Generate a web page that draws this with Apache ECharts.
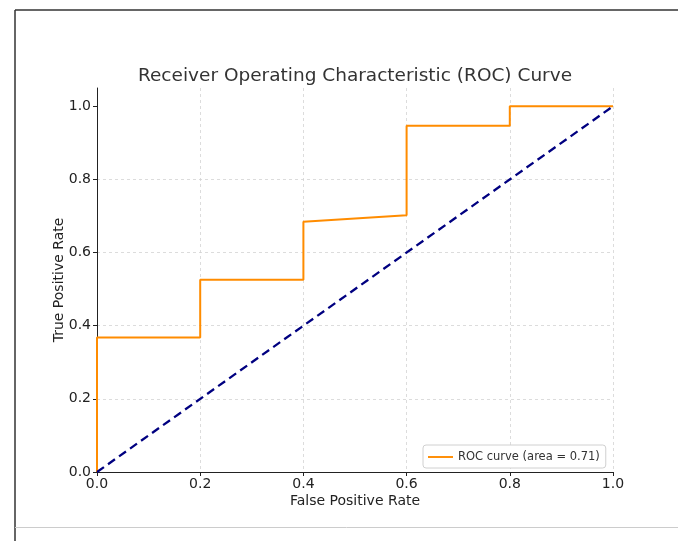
<!DOCTYPE html>
<html>
<head>
<meta charset="utf-8">
<script src="https://cdn.jsdelivr.net/npm/echarts@6/dist/echarts.min.js"></script>
<style>
html,body{margin:0;padding:0;background:#fff;}
#c{width:678px;height:541px;}
</style>
</head>
<body>
<div id="c"></div>
<script>
const fpr = [0.0, 0.0, 0.2, 0.2, 0.4, 0.4, 0.6, 0.6, 0.8, 0.8, 1.0];
const tpr = [0.0, 0.368, 0.368, 0.526, 0.526, 0.684, 0.702, 0.947, 0.947, 1.0, 1.0];
const diagX = [0, 1];
const diagY = [0, 1];
const ticks = [0, 0.2, 0.4, 0.6, 0.8, 1.0];
const rocLabel = 'ROC curve (area = 0.71)';

const chart = echarts.init(document.getElementById('c'));
const font = 'DejaVu Sans';
const gridLine = {show: true, lineStyle: {color: '#d4d4d4', width: 0.8, type: [3, 3]}};
chart.setOption({
  animation: false,
  textStyle: {fontFamily: font},
  title: {
    text: 'Receiver Operating Characteristic (ROC) Curve',
    left: 350, top: 62, textAlign: 'center',
    textStyle: {fontFamily: font, fontSize: 18.5, fontWeight: 'normal', color: '#333'}
  },
  grid: {left: 97, right: 65, top: 88, bottom: 69, containLabel: false},
  legend: {
    left: 423, top: 445,
    data: [{name: rocLabel, icon: 'path://M0 0 H26 V2 H0 Z'}],
    padding: [6, 6, 5, 5],
    borderColor: '#d0d0d0', borderWidth: 1, borderRadius: 3,
    backgroundColor: '#fff',
    itemWidth: 25, itemHeight: 2, itemGap: 8,
    textStyle: {fontFamily: font, fontSize: 11.5, color: '#333'}
  },
  xAxis: {
    type: 'value', min: 0, max: 1, interval: 0.2,
    name: 'False Positive Rate', nameLocation: 'middle', nameGap: 22, nameMoveOverlap: false,
    nameTextStyle: {fontFamily: font, fontSize: 14, color: '#222'},
    axisLine: {show: true, onZero: false, lineStyle: {color: '#222', width: 1}},
    axisTick: {show: true, inside: false, length: 4, lineStyle: {color: '#222'}},
    axisLabel: {margin: 5, fontFamily: font, fontSize: 14, color: '#222', formatter: v => v.toFixed(1)},
    splitLine: gridLine
  },
  yAxis: {
    type: 'value', min: 0, max: 1.05, interval: 0.2,
    name: 'True Positive Rate', nameLocation: 'middle', nameGap: 31, nameMoveOverlap: false,
    nameTextStyle: {fontFamily: font, fontSize: 14, color: '#222'},
    axisLine: {show: true, onZero: false, lineStyle: {color: '#222', width: 1}},
    axisTick: {show: true, inside: false, length: 4, lineStyle: {color: '#222'}, customValues: ticks},
    axisLabel: {margin: 6, fontFamily: font, fontSize: 14, color: '#222', customValues: ticks, formatter: v => v.toFixed(1)},
    splitLine: Object.assign({showMaxLine: false}, gridLine)
  },
  series: [
    {
      name: rocLabel, type: 'line', symbol: 'none', clip: true,
      data: fpr.map((x, i) => [x, tpr[i]]),
      lineStyle: {color: '#ff8c00', width: 2},
      itemStyle: {color: '#ff8c00'}, z: 3
    },
    {
      name: 'chance', type: 'line', symbol: 'none',
      data: diagX.map((x, i) => [x, diagY[i]]),
      lineStyle: {color: '#000080', width: 2.3, type: [8.5, 5]},
      itemStyle: {color: '#000080'}, z: 4
    }
  ],
  graphic: [
    {type: 'line', shape: {x1: 15, y1: 10, x2: 678, y2: 10}, style: {stroke: '#333', lineWidth: 1.5}},
    {type: 'line', shape: {x1: 15, y1: 10, x2: 15, y2: 541}, style: {stroke: '#333', lineWidth: 1.5}},
    {type: 'line', shape: {x1: 15, y1: 527.5, x2: 678, y2: 527.5}, style: {stroke: '#cccccc', lineWidth: 1}}
  ]
});
</script>
</body>
</html>
